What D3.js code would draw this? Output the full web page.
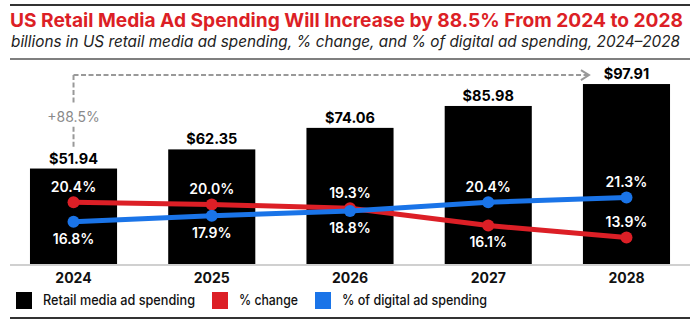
<!DOCTYPE html>
<html>
<head>
<meta charset="utf-8">
<script src="https://cdn.jsdelivr.net/npm/d3@7"></script>
<style>
  html, body { margin: 0; padding: 0; background: #fff; }
  svg { display: block; font-family: Inter, "Noto Sans", sans-serif; }
</style>
</head>
<body>
<svg id="chart" width="700" height="322"></svg>
<script>
// chart data
var years = ["2024", "2025", "2026", "2027", "2028"];
var spending = [51.94, 62.35, 74.06, 85.98, 97.91];      // billions
var pctChange = [20.4, 20.0, 19.3, 16.1, 13.9];           // % change
var pctDigital = [16.8, 17.9, 18.8, 20.4, 21.3];          // % of digital ad spending
var growthLabel = "+88.5%";

var title = "US Retail Media Ad Spending Will Increase by 88.5% From 2024 to 2028";
var subtitle = "billions in US retail media ad spending, % change, and % of digital ad spending, 2024\u20132028";

var RED = "#dc1f26", BLUE = "#1a74e8", GRAY = "#999";

var svg = d3.select("#chart");

// header rules and titles
svg.append("line").attr("x1", 10).attr("x2", 690).attr("y1", 5).attr("y2", 5)
    .attr("stroke", "#333").attr("stroke-width", 2);
svg.append("text").attr("x", 10).attr("y", 27)
    .attr("textLength", 673).attr("lengthAdjust", "spacingAndGlyphs")
    .style("font-size", "19px").style("font-weight", 700).attr("fill", RED)
    .text(title);
svg.append("text").attr("x", 11).attr("y", 47)
    .attr("textLength", 669).attr("lengthAdjust", "spacingAndGlyphs")
    .style("font-size", "15.5px").style("font-style", "italic").attr("fill", "#222")
    .text(subtitle);
svg.append("line").attr("x1", 10).attr("x2", 690).attr("y1", 59).attr("y2", 59)
    .attr("stroke", "#555").attr("stroke-width", 1.5);

// scales
var x = d3.scaleBand()
    .domain(years)
    .range([4.4, 695.6])
    .paddingInner(0.37)
    .paddingOuter(0.185);

var y = d3.scaleLinear().domain([0, 100]).range([264, 80.2]);
var yPct = d3.scaleLinear().domain([10, 25]).range([258.5, 177.4]);

function cx(d) { return x(d) + x.bandwidth() / 2; }

var bars = years.map(function(yr, i) { return { year: yr, value: spending[i] }; });

// bars
svg.selectAll(".bar")
    .data(bars)
    .enter()
    .append("rect")
    .attr("class", "bar")
    .attr("x", function(d) { return x(d.year); })
    .attr("y", function(d) { return y(d.value); })
    .attr("width", x.bandwidth())
    .attr("height", function(d) { return y(0) - y(d.value); })
    .attr("fill", "#000");

// value labels on top of bars
svg.selectAll(".bar-label")
    .data(bars)
    .enter()
    .append("text")
    .attr("class", "bar-label")
    .attr("x", function(d) { return cx(d.year); })
    .attr("y", function(d) { return y(d.value) - 5; })
    .attr("text-anchor", "middle")
    .style("font-size", "14.5px").style("font-weight", 700)
    .text(function(d) { return "$" + d3.format(".2f")(d.value); });

// baseline
svg.append("line").attr("x1", 10).attr("x2", 690).attr("y1", 265).attr("y2", 265)
    .attr("stroke", "#d0d0d0").attr("stroke-width", 2);

// year axis
var xAxis = svg.append("g")
    .attr("transform", "translate(0,265)")
    .call(d3.axisBottom(x).tickSize(0).tickPadding(8));
xAxis.select(".domain").remove();
xAxis.selectAll("text")
    .attr("fill", "#111")
    .style("font-family", "Inter, sans-serif")
    .style("font-size", "14px").style("font-weight", 700);

// growth annotation: dashed bracket from 2024 to 2028
var first = bars[0], last = bars[bars.length - 1];
var annY = y(last.value) - 9;
var annX0 = cx(first.year);
var annX1 = x(last.year) + 6;
var annBottom = y(first.value) - 20;
var labelY = (annY + annBottom) / 2 + 5;
var dash = { stroke: GRAY, "stroke-width": 2, "stroke-dasharray": "5,2.5", fill: "none" };

function applyStyle(sel, st) { Object.keys(st).forEach(function(k) { sel.attr(k, st[k]); }); return sel; }

applyStyle(svg.append("line")
    .attr("x1", annX0).attr("x2", annX0).attr("y1", annY).attr("y2", labelY - 14), dash);
applyStyle(svg.append("line")
    .attr("x1", annX0).attr("x2", annX0).attr("y1", labelY + 10).attr("y2", annBottom), dash);
applyStyle(svg.append("line")
    .attr("x1", annX0).attr("x2", annX1).attr("y1", annY).attr("y2", annY), dash);
svg.append("path")
    .attr("d", "M" + (annX1 - 8) + "," + (annY - 5) + "L" + annX1 + "," + annY + "L" + (annX1 - 8) + "," + (annY + 5))
    .attr("fill", "none").attr("stroke", GRAY).attr("stroke-width", 2);
svg.append("text")
    .attr("x", annX0).attr("y", labelY)
    .attr("dy", "0.35em")
    .attr("text-anchor", "middle")
    .attr("fill", "#8a8a8a")
    .style("font-size", "14px")
    .text(growthLabel);

// percentage lines
var series = [
    { key: "change", color: RED, values: pctChange, below: ["2027"] },
    { key: "share", color: BLUE, values: pctDigital, below: ["2024", "2025", "2026"] }
];

var line = d3.line()
    .x(function(d) { return cx(d.year); })
    .y(function(d) { return yPct(d.value); });

series.forEach(function(s) {
    var pts = years.map(function(yr, i) { return { year: yr, value: s.values[i] }; });
    var g = svg.append("g").attr("class", "series-" + s.key);
    g.append("path")
        .datum(pts)
        .attr("d", line)
        .attr("fill", "none")
        .attr("stroke", s.color)
        .attr("stroke-width", 5);
    g.selectAll("circle")
        .data(pts)
        .enter()
        .append("circle")
        .attr("cx", function(d) { return cx(d.year); })
        .attr("cy", function(d) { return yPct(d.value); })
        .attr("r", 6)
        .attr("fill", s.color);
    s.pts = pts;
});

// percentage labels drawn after both lines so they sit on top
series.forEach(function(s) {
    svg.append("g").selectAll("text")
        .data(s.pts)
        .enter()
        .append("text")
        .attr("x", function(d) { return cx(d.year); })
        .attr("y", function(d) {
            var isBelow = s.below.indexOf(d.year) >= 0;
            return yPct(d.value) + (isBelow ? 17 : -15);
        })
        .attr("dy", "0.35em")
        .attr("text-anchor", "middle")
        .attr("fill", "#fff")
        .style("font-size", "14px").style("font-weight", 600)
        .text(function(d) { return d3.format(".1f")(d.value) + "%"; });
});

// legend
var legendItems = [
    { label: "Retail media ad spending", color: "#000", width: 152 },
    { label: "% change", color: RED, width: 59 },
    { label: "% of digital ad spending", color: BLUE, width: 145 }
];
var legend = svg.append("g").attr("class", "legend");
var lx = 16;
legendItems.forEach(function(item) {
    legend.append("rect")
        .attr("x", lx).attr("y", 292)
        .attr("width", 16).attr("height", 17)
        .attr("fill", item.color);
    legend.append("text")
        .attr("x", lx + 27).attr("y", 300.5)
        .attr("dy", "0.35em")
        .attr("textLength", item.width).attr("lengthAdjust", "spacingAndGlyphs")
        .attr("fill", "#111")
        .style("font-size", "14px").style("font-weight", 500)
        .text(item.label);
    lx += 27 + item.width + 17;
});

// bottom rule
svg.append("line").attr("x1", 10).attr("x2", 690).attr("y1", 318).attr("y2", 318)
    .attr("stroke", "#333").attr("stroke-width", 2);
</script>
</body>
</html>
